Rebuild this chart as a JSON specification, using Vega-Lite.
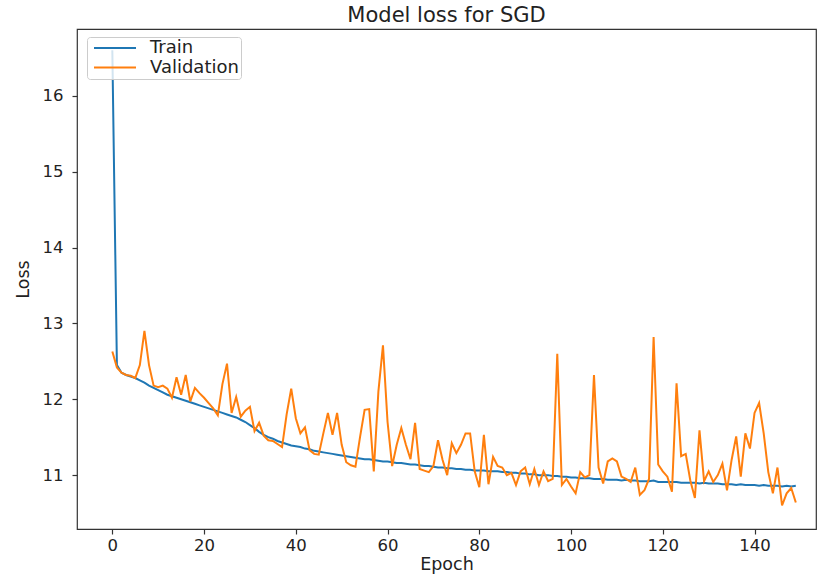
{
  "$schema": "https://vega.github.io/schema/vega-lite/v6.json",
  "width": 739,
  "height": 500,
  "autosize": "none",
  "padding": {"left": 77, "top": 29, "right": 1, "bottom": 45},
  "background": "white",
  "title": {"text": "Model loss for SGD", "font": "DejaVu Sans", "fontSize": 21, "fontWeight": "normal", "color": "#222222", "anchor": "middle", "frame": "group", "offset": 3},
  "config": {
    "view": {"stroke": "#333333", "strokeWidth": 1.2},
    "axis": {"grid": false, "domain": false, "labelFont": "DejaVu Sans", "labelFontSize": 16.5, "labelColor": "#222222", "tickColor": "#333333", "tickSize": 5, "tickWidth": 1.2, "titleFont": "DejaVu Sans", "titleFontSize": 17.5, "titleFontWeight": "normal", "titleColor": "#222222"}
  },
  "data": {"values": [
    {"epoch":0,"series":"Train","loss":16.6},{"epoch":1,"series":"Train","loss":12.45},{"epoch":2,"series":"Train","loss":12.35},{"epoch":3,"series":"Train","loss":12.32},{"epoch":4,"series":"Train","loss":12.30},{"epoch":5,"series":"Train","loss":12.28},{"epoch":6,"series":"Train","loss":12.25},{"epoch":7,"series":"Train","loss":12.22},{"epoch":8,"series":"Train","loss":12.18},{"epoch":9,"series":"Train","loss":12.15},
    {"epoch":10,"series":"Train","loss":12.12},{"epoch":11,"series":"Train","loss":12.09},{"epoch":12,"series":"Train","loss":12.06},{"epoch":13,"series":"Train","loss":12.04},{"epoch":14,"series":"Train","loss":12.02},{"epoch":15,"series":"Train","loss":12.00},{"epoch":16,"series":"Train","loss":11.98},{"epoch":17,"series":"Train","loss":11.96},{"epoch":18,"series":"Train","loss":11.94},{"epoch":19,"series":"Train","loss":11.92},
    {"epoch":20,"series":"Train","loss":11.90},{"epoch":21,"series":"Train","loss":11.88},{"epoch":22,"series":"Train","loss":11.86},{"epoch":23,"series":"Train","loss":11.84},{"epoch":24,"series":"Train","loss":11.82},{"epoch":25,"series":"Train","loss":11.80},{"epoch":26,"series":"Train","loss":11.78},{"epoch":27,"series":"Train","loss":11.76},{"epoch":28,"series":"Train","loss":11.73},{"epoch":29,"series":"Train","loss":11.70},
    {"epoch":30,"series":"Train","loss":11.66},{"epoch":31,"series":"Train","loss":11.62},{"epoch":32,"series":"Train","loss":11.57},{"epoch":33,"series":"Train","loss":11.53},{"epoch":34,"series":"Train","loss":11.50},{"epoch":35,"series":"Train","loss":11.48},{"epoch":36,"series":"Train","loss":11.45},{"epoch":37,"series":"Train","loss":11.43},{"epoch":38,"series":"Train","loss":11.41},{"epoch":39,"series":"Train","loss":11.39},
    {"epoch":40,"series":"Train","loss":11.38},{"epoch":41,"series":"Train","loss":11.37},{"epoch":42,"series":"Train","loss":11.35},{"epoch":43,"series":"Train","loss":11.34},{"epoch":44,"series":"Train","loss":11.32},{"epoch":45,"series":"Train","loss":11.31},{"epoch":46,"series":"Train","loss":11.30},{"epoch":47,"series":"Train","loss":11.29},{"epoch":48,"series":"Train","loss":11.28},{"epoch":49,"series":"Train","loss":11.27},
    {"epoch":50,"series":"Train","loss":11.26},{"epoch":51,"series":"Train","loss":11.25},{"epoch":52,"series":"Train","loss":11.24},{"epoch":53,"series":"Train","loss":11.23},{"epoch":54,"series":"Train","loss":11.22},{"epoch":55,"series":"Train","loss":11.21},{"epoch":56,"series":"Train","loss":11.21},{"epoch":57,"series":"Train","loss":11.20},{"epoch":58,"series":"Train","loss":11.19},{"epoch":59,"series":"Train","loss":11.18},
    {"epoch":60,"series":"Train","loss":11.18},{"epoch":61,"series":"Train","loss":11.17},{"epoch":62,"series":"Train","loss":11.16},{"epoch":63,"series":"Train","loss":11.16},{"epoch":64,"series":"Train","loss":11.15},{"epoch":65,"series":"Train","loss":11.14},{"epoch":66,"series":"Train","loss":11.14},{"epoch":67,"series":"Train","loss":11.13},{"epoch":68,"series":"Train","loss":11.12},{"epoch":69,"series":"Train","loss":11.12},
    {"epoch":70,"series":"Train","loss":11.11},{"epoch":71,"series":"Train","loss":11.10},{"epoch":72,"series":"Train","loss":11.10},{"epoch":73,"series":"Train","loss":11.09},{"epoch":74,"series":"Train","loss":11.09},{"epoch":75,"series":"Train","loss":11.08},{"epoch":76,"series":"Train","loss":11.08},{"epoch":77,"series":"Train","loss":11.07},{"epoch":78,"series":"Train","loss":11.07},{"epoch":79,"series":"Train","loss":11.06},
    {"epoch":80,"series":"Train","loss":11.06},{"epoch":81,"series":"Train","loss":11.06},{"epoch":82,"series":"Train","loss":11.05},{"epoch":83,"series":"Train","loss":11.05},{"epoch":84,"series":"Train","loss":11.05},{"epoch":85,"series":"Train","loss":11.04},{"epoch":86,"series":"Train","loss":11.04},{"epoch":87,"series":"Train","loss":11.03},{"epoch":88,"series":"Train","loss":11.03},{"epoch":89,"series":"Train","loss":11.02},
    {"epoch":90,"series":"Train","loss":11.02},{"epoch":91,"series":"Train","loss":11.01},{"epoch":92,"series":"Train","loss":11.01},{"epoch":93,"series":"Train","loss":11.00},{"epoch":94,"series":"Train","loss":11.00},{"epoch":95,"series":"Train","loss":11.00},{"epoch":96,"series":"Train","loss":10.99},{"epoch":97,"series":"Train","loss":10.99},{"epoch":98,"series":"Train","loss":10.98},{"epoch":99,"series":"Train","loss":10.98},
    {"epoch":100,"series":"Train","loss":10.97},{"epoch":101,"series":"Train","loss":10.97},{"epoch":102,"series":"Train","loss":10.96},{"epoch":103,"series":"Train","loss":10.96},{"epoch":104,"series":"Train","loss":10.96},{"epoch":105,"series":"Train","loss":10.95},{"epoch":106,"series":"Train","loss":10.95},{"epoch":107,"series":"Train","loss":10.95},{"epoch":108,"series":"Train","loss":10.94},{"epoch":109,"series":"Train","loss":10.94},
    {"epoch":110,"series":"Train","loss":10.94},{"epoch":111,"series":"Train","loss":10.93},{"epoch":112,"series":"Train","loss":10.94},{"epoch":113,"series":"Train","loss":10.93},{"epoch":114,"series":"Train","loss":10.93},{"epoch":115,"series":"Train","loss":10.92},{"epoch":116,"series":"Train","loss":10.92},{"epoch":117,"series":"Train","loss":10.92},{"epoch":118,"series":"Train","loss":10.93},{"epoch":119,"series":"Train","loss":10.91},
    {"epoch":120,"series":"Train","loss":10.91},{"epoch":121,"series":"Train","loss":10.91},{"epoch":122,"series":"Train","loss":10.91},{"epoch":123,"series":"Train","loss":10.91},{"epoch":124,"series":"Train","loss":10.90},{"epoch":125,"series":"Train","loss":10.90},{"epoch":126,"series":"Train","loss":10.90},{"epoch":127,"series":"Train","loss":10.90},{"epoch":128,"series":"Train","loss":10.89},{"epoch":129,"series":"Train","loss":10.90},
    {"epoch":130,"series":"Train","loss":10.89},{"epoch":131,"series":"Train","loss":10.89},{"epoch":132,"series":"Train","loss":10.89},{"epoch":133,"series":"Train","loss":10.88},{"epoch":134,"series":"Train","loss":10.88},{"epoch":135,"series":"Train","loss":10.88},{"epoch":136,"series":"Train","loss":10.87},{"epoch":137,"series":"Train","loss":10.88},{"epoch":138,"series":"Train","loss":10.87},{"epoch":139,"series":"Train","loss":10.87},
    {"epoch":140,"series":"Train","loss":10.87},{"epoch":141,"series":"Train","loss":10.86},{"epoch":142,"series":"Train","loss":10.87},{"epoch":143,"series":"Train","loss":10.86},{"epoch":144,"series":"Train","loss":10.86},{"epoch":145,"series":"Train","loss":10.86},{"epoch":146,"series":"Train","loss":10.85},{"epoch":147,"series":"Train","loss":10.86},{"epoch":148,"series":"Train","loss":10.85},{"epoch":149,"series":"Train","loss":10.86},
    {"epoch":0,"series":"Validation","loss":12.63},{"epoch":1,"series":"Validation","loss":12.42},{"epoch":2,"series":"Validation","loss":12.35},{"epoch":3,"series":"Validation","loss":12.32},{"epoch":4,"series":"Validation","loss":12.31},{"epoch":5,"series":"Validation","loss":12.28},{"epoch":6,"series":"Validation","loss":12.45},{"epoch":7,"series":"Validation","loss":12.90},{"epoch":8,"series":"Validation","loss":12.45},{"epoch":9,"series":"Validation","loss":12.18},
    {"epoch":10,"series":"Validation","loss":12.16},{"epoch":11,"series":"Validation","loss":12.18},{"epoch":12,"series":"Validation","loss":12.14},{"epoch":13,"series":"Validation","loss":12.02},{"epoch":14,"series":"Validation","loss":12.29},{"epoch":15,"series":"Validation","loss":12.06},{"epoch":16,"series":"Validation","loss":12.32},{"epoch":17,"series":"Validation","loss":11.97},{"epoch":18,"series":"Validation","loss":12.15},{"epoch":19,"series":"Validation","loss":12.08},
    {"epoch":20,"series":"Validation","loss":12.02},{"epoch":21,"series":"Validation","loss":11.95},{"epoch":22,"series":"Validation","loss":11.88},{"epoch":23,"series":"Validation","loss":11.79},{"epoch":24,"series":"Validation","loss":12.20},{"epoch":25,"series":"Validation","loss":12.47},{"epoch":26,"series":"Validation","loss":11.82},{"epoch":27,"series":"Validation","loss":12.03},{"epoch":28,"series":"Validation","loss":11.77},{"epoch":29,"series":"Validation","loss":11.85},
    {"epoch":30,"series":"Validation","loss":11.90},{"epoch":31,"series":"Validation","loss":11.58},{"epoch":32,"series":"Validation","loss":11.69},{"epoch":33,"series":"Validation","loss":11.52},{"epoch":34,"series":"Validation","loss":11.46},{"epoch":35,"series":"Validation","loss":11.45},{"epoch":36,"series":"Validation","loss":11.41},{"epoch":37,"series":"Validation","loss":11.37},{"epoch":38,"series":"Validation","loss":11.80},{"epoch":39,"series":"Validation","loss":12.14},
    {"epoch":40,"series":"Validation","loss":11.75},{"epoch":41,"series":"Validation","loss":11.55},{"epoch":42,"series":"Validation","loss":11.63},{"epoch":43,"series":"Validation","loss":11.33},{"epoch":44,"series":"Validation","loss":11.28},{"epoch":45,"series":"Validation","loss":11.27},{"epoch":46,"series":"Validation","loss":11.55},{"epoch":47,"series":"Validation","loss":11.82},{"epoch":48,"series":"Validation","loss":11.53},{"epoch":49,"series":"Validation","loss":11.82},
    {"epoch":50,"series":"Validation","loss":11.40},{"epoch":51,"series":"Validation","loss":11.17},{"epoch":52,"series":"Validation","loss":11.13},{"epoch":53,"series":"Validation","loss":11.11},{"epoch":54,"series":"Validation","loss":11.50},{"epoch":55,"series":"Validation","loss":11.86},{"epoch":56,"series":"Validation","loss":11.87},{"epoch":57,"series":"Validation","loss":11.05},{"epoch":58,"series":"Validation","loss":12.10},{"epoch":59,"series":"Validation","loss":12.71},
    {"epoch":60,"series":"Validation","loss":11.70},{"epoch":61,"series":"Validation","loss":11.12},{"epoch":62,"series":"Validation","loss":11.40},{"epoch":63,"series":"Validation","loss":11.62},{"epoch":64,"series":"Validation","loss":11.40},{"epoch":65,"series":"Validation","loss":11.21},{"epoch":66,"series":"Validation","loss":11.69},{"epoch":67,"series":"Validation","loss":11.08},{"epoch":68,"series":"Validation","loss":11.06},{"epoch":69,"series":"Validation","loss":11.04},
    {"epoch":70,"series":"Validation","loss":11.12},{"epoch":71,"series":"Validation","loss":11.46},{"epoch":72,"series":"Validation","loss":11.20},{"epoch":73,"series":"Validation","loss":11.00},{"epoch":74,"series":"Validation","loss":11.42},{"epoch":75,"series":"Validation","loss":11.29},{"epoch":76,"series":"Validation","loss":11.40},{"epoch":77,"series":"Validation","loss":11.55},{"epoch":78,"series":"Validation","loss":11.55},{"epoch":79,"series":"Validation","loss":11.05},
    {"epoch":80,"series":"Validation","loss":10.84},{"epoch":81,"series":"Validation","loss":11.53},{"epoch":82,"series":"Validation","loss":10.88},{"epoch":83,"series":"Validation","loss":11.24},{"epoch":84,"series":"Validation","loss":11.12},{"epoch":85,"series":"Validation","loss":11.10},{"epoch":86,"series":"Validation","loss":11.00},{"epoch":87,"series":"Validation","loss":11.03},{"epoch":88,"series":"Validation","loss":10.87},{"epoch":89,"series":"Validation","loss":11.05},
    {"epoch":90,"series":"Validation","loss":11.10},{"epoch":91,"series":"Validation","loss":10.88},{"epoch":92,"series":"Validation","loss":11.08},{"epoch":93,"series":"Validation","loss":10.87},{"epoch":94,"series":"Validation","loss":11.05},{"epoch":95,"series":"Validation","loss":10.92},{"epoch":96,"series":"Validation","loss":10.95},{"epoch":97,"series":"Validation","loss":12.60},{"epoch":98,"series":"Validation","loss":10.87},{"epoch":99,"series":"Validation","loss":10.95},
    {"epoch":100,"series":"Validation","loss":10.85},{"epoch":101,"series":"Validation","loss":10.76},{"epoch":102,"series":"Validation","loss":11.04},{"epoch":103,"series":"Validation","loss":10.97},{"epoch":104,"series":"Validation","loss":11.00},{"epoch":105,"series":"Validation","loss":12.32},{"epoch":106,"series":"Validation","loss":11.10},{"epoch":107,"series":"Validation","loss":10.89},{"epoch":108,"series":"Validation","loss":11.18},{"epoch":109,"series":"Validation","loss":11.22},
    {"epoch":110,"series":"Validation","loss":11.18},{"epoch":111,"series":"Validation","loss":10.98},{"epoch":112,"series":"Validation","loss":10.95},{"epoch":113,"series":"Validation","loss":10.91},{"epoch":114,"series":"Validation","loss":11.10},{"epoch":115,"series":"Validation","loss":10.74},{"epoch":116,"series":"Validation","loss":10.80},{"epoch":117,"series":"Validation","loss":10.95},{"epoch":118,"series":"Validation","loss":12.82},{"epoch":119,"series":"Validation","loss":11.14},
    {"epoch":120,"series":"Validation","loss":11.05},{"epoch":121,"series":"Validation","loss":10.98},{"epoch":122,"series":"Validation","loss":10.78},{"epoch":123,"series":"Validation","loss":12.21},{"epoch":124,"series":"Validation","loss":11.25},{"epoch":125,"series":"Validation","loss":11.28},{"epoch":126,"series":"Validation","loss":10.93},{"epoch":127,"series":"Validation","loss":10.70},{"epoch":128,"series":"Validation","loss":11.59},{"epoch":129,"series":"Validation","loss":10.92},
    {"epoch":130,"series":"Validation","loss":11.05},{"epoch":131,"series":"Validation","loss":10.91},{"epoch":132,"series":"Validation","loss":11.00},{"epoch":133,"series":"Validation","loss":11.15},{"epoch":134,"series":"Validation","loss":10.80},{"epoch":135,"series":"Validation","loss":11.20},{"epoch":136,"series":"Validation","loss":11.51},{"epoch":137,"series":"Validation","loss":10.98},{"epoch":138,"series":"Validation","loss":11.55},{"epoch":139,"series":"Validation","loss":11.35},
    {"epoch":140,"series":"Validation","loss":11.82},{"epoch":141,"series":"Validation","loss":11.95},{"epoch":142,"series":"Validation","loss":11.55},{"epoch":143,"series":"Validation","loss":11.04},{"epoch":144,"series":"Validation","loss":10.76},{"epoch":145,"series":"Validation","loss":11.10},{"epoch":146,"series":"Validation","loss":10.60},{"epoch":147,"series":"Validation","loss":10.76},{"epoch":148,"series":"Validation","loss":10.83},{"epoch":149,"series":"Validation","loss":10.64}
  ]},
  "encoding": {
    "x": {"field": "epoch", "type": "quantitative", "scale": {"domain": [-7.7, 153.4], "nice": false, "zero": false},
          "axis": {"values": [0, 20, 40, 60, 80, 100, 120, 140], "title": "Epoch", "labelPadding": 3, "titlePadding": 2}},
    "y": {"field": "loss", "type": "quantitative", "scale": {"domain": [10.29, 16.88], "nice": false, "zero": false},
          "axis": {"values": [11, 12, 13, 14, 15, 16], "title": "Loss", "labelPadding": 9, "titlePadding": 10}},
    "color": {"field": "series", "type": "nominal",
              "scale": {"domain": ["Train", "Validation"], "range": ["#1f77b4", "#ff7f0e"]},
              "legend": {"title": null, "orient": "none", "legendX": 10, "legendY": 8,
                         "symbolType": "M-4,0H4", "symbolSize": 110.25, "symbolStrokeWidth": 2, "symbolOffset": 17,
                         "labelFont": "DejaVu Sans", "labelFontSize": 18, "labelColor": "#222222", "labelOffset": 26,
                         "rowPadding": 1.5, "padding": 2, "fillColor": "rgba(255,255,255,0.8)", "strokeColor": "#cccccc", "cornerRadius": 3}}
  },
  "layer": [
    {"transform": [{"filter": "datum.series === 'Train'"}], "mark": {"type": "line", "strokeWidth": 2}},
    {"transform": [{"filter": "datum.series === 'Validation'"}], "mark": {"type": "line", "strokeWidth": 2}}
  ]
}
